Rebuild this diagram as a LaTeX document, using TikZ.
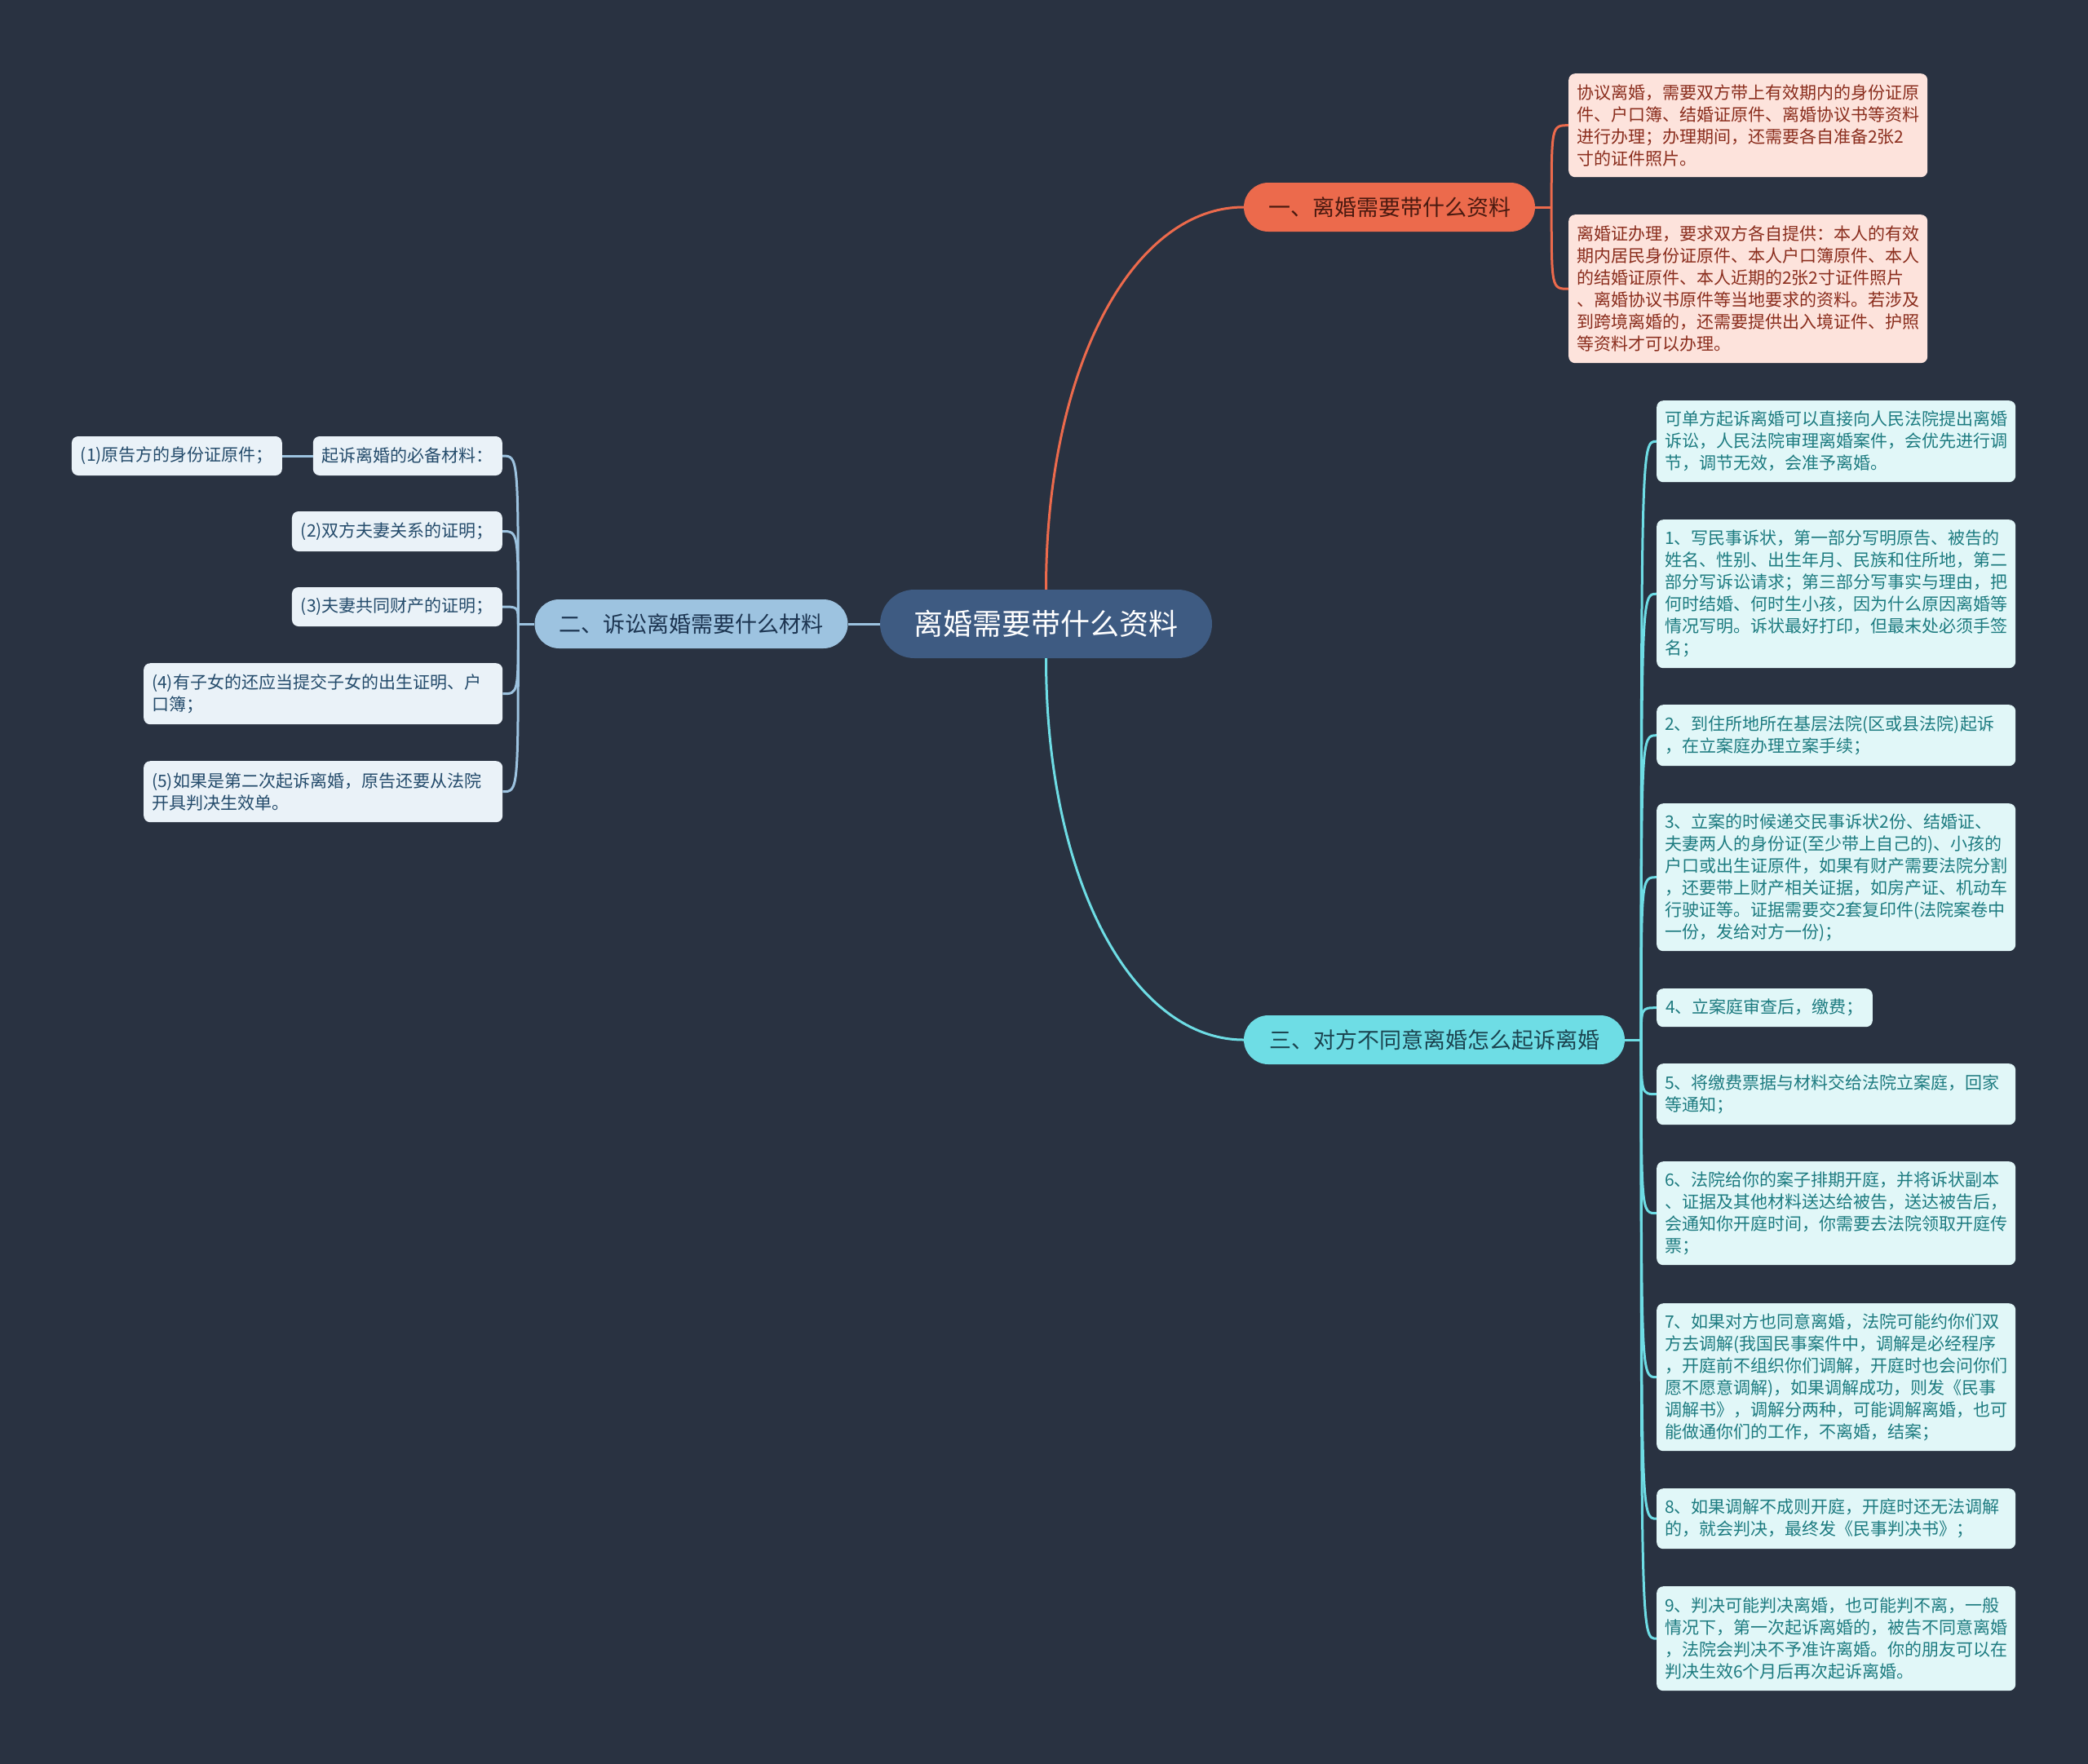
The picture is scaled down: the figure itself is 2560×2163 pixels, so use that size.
\documentclass[tikz,border=0pt]{standalone}
\usepackage{fontspec}
\setmainfont{Noto Sans CJK SC}
\definecolor{bgc}{HTML}{293241}
\definecolor{rootc}{HTML}{3E5B82}
\definecolor{c1}{HTML}{EC6A4C}
\definecolor{c2}{HTML}{9DC3E0}
\definecolor{c3}{HTML}{6EDDE5}
\definecolor{bt1}{HTML}{4A1A10}
\definecolor{bt2}{HTML}{1C3450}
\definecolor{bt3}{HTML}{1B4450}
\definecolor{lf1}{HTML}{FDE3DC}
\definecolor{lf2}{HTML}{EAF2F8}
\definecolor{lf3}{HTML}{E1F7F8}
\definecolor{lt1}{HTML}{8A2D1D}
\definecolor{lt2}{HTML}{244B6B}
\definecolor{lt3}{HTML}{1D7B80}
\begin{document}
\begin{tikzpicture}[x=1pt,y=-1pt,
  rootbox/.style={fill=rootc,text=white,rounded corners=42pt,minimum width=407pt,minimum height=84pt,inner sep=0pt,font=\fontsize{36}{40}\selectfont},
  branchbox/.style={rounded corners=30pt,minimum height=60pt,inner sep=0pt,font=\fontsize{27}{30}\selectfont},
  leafbox/.style={rounded corners=8pt,text width=420pt,inner xsep=10pt,inner ysep=0pt,align=left,anchor=north west,font=\fontsize{21}{27}\selectfont},
  leafshort/.style={rounded corners=8pt,inner xsep=11pt,inner ysep=0pt,align=left,font=\fontsize{21}{27}\selectfont},
  pink/.style={fill=lf1,text=lt1},
  pale/.style={fill=lf2,text=lt2},
  aqua/.style={fill=lf3,text=lt3},
  e1/.style={draw=c1,line width=3pt},
  e2/.style={draw=c2,line width=3pt},
  e3/.style={draw=c3,line width=3pt}]
\fill[bgc] (0,0) rectangle (2560,2163);
\useasboundingbox (0,0) rectangle (2560,2163);

% root and branches
\node[rootbox] (c) at (1282.5,765) {离婚需要带什么资料};
\node[branchbox,fill=c1,text=bt1,minimum width=357pt] (b1) at (1703.5,254) {一、离婚需要带什么资料};
\node[branchbox,fill=c2,text=bt2,minimum width=384pt] (b2) at (847.5,765) {二、诉讼离婚需要什么材料};
\node[branchbox,fill=c3,text=bt3,minimum width=467pt] (b3) at (1758.5,1275) {三、对方不同意离婚怎么起诉离婚};

% branch 1 leaves
\node[leafbox,pink,minimum height=127pt] (a1) at (1923,90) {协议离婚，需要双方带上有效期内的身份证原\\件、户口簿、结婚证原件、离婚协议书等资料\\进行办理；办理期间，还需要各自准备2张2\\寸的证件照片。};
\node[leafbox,pink,minimum height=182pt] (a2) at (1923,263) {离婚证办理，要求双方各自提供：本人的有效\\期内居民身份证原件、本人户口簿原件、本人\\的结婚证原件、本人近期的2张2寸证件照片\\、离婚协议书原件等当地要求的资料。若涉及\\到跨境离婚的，还需要提供出入境证件、护照\\等资料才可以办理。};

% branch 3 leaves
\node[leafbox,aqua,minimum height=100pt] (d0) at (2031,491) {可单方起诉离婚可以直接向人民法院提出离婚\\诉讼，人民法院审理离婚案件，会优先进行调\\节，调节无效，会准予离婚。};
\node[leafbox,aqua,minimum height=182pt] (d1) at (2031,637) {1、写民事诉状，第一部分写明原告、被告的\\姓名、性别、出生年月、民族和住所地，第二\\部分写诉讼请求；第三部分写事实与理由，把\\何时结婚、何时生小孩，因为什么原因离婚等\\情况写明。诉状最好打印，但最末处必须手签\\名；};
\node[leafbox,aqua,minimum height=75pt] (d2) at (2031,864) {2、到住所地所在基层法院(区或县法院)起诉\\，在立案庭办理立案手续；};
\node[leafbox,aqua,minimum height=181pt] (d3) at (2031,985) {3、立案的时候递交民事诉状2份、结婚证、\\夫妻两人的身份证(至少带上自己的)、小孩的\\户口或出生证原件，如果有财产需要法院分割\\，还要带上财产相关证据，如房产证、机动车\\行驶证等。证据需要交2套复印件(法院案卷中\\一份，发给对方一份)；};
\node[leafshort,aqua,minimum height=47pt,anchor=north west] (d4) at (2031,1212) {4、立案庭审查后，缴费；};
\node[leafbox,aqua,minimum height=75pt] (d5) at (2031,1304) {5、将缴费票据与材料交给法院立案庭，回家\\等通知；};
\node[leafbox,aqua,minimum height=127pt] (d6) at (2031,1424) {6、法院给你的案子排期开庭，并将诉状副本\\、证据及其他材料送达给被告，送达被告后，\\会通知你开庭时间，你需要去法院领取开庭传\\票；};
\node[leafbox,aqua,minimum height=181pt] (d7) at (2031,1598) {7、如果对方也同意离婚，法院可能约你们双\\方去调解(我国民事案件中，调解是必经程序\\，开庭前不组织你们调解，开庭时也会问你们\\愿不愿意调解)，如果调解成功，则发《民事\\调解书》，调解分两种，可能调解离婚，也可\\能做通你们的工作，不离婚，结案；};
\node[leafbox,aqua,minimum height=74pt] (d8) at (2031,1825) {8、如果调解不成则开庭，开庭时还无法调解\\的，就会判决，最终发《民事判决书》；};
\node[leafbox,aqua,minimum height=128pt] (d9) at (2031,1945) {9、判决可能判决离婚，也可能判不离，一般\\情况下，第一次起诉离婚的，被告不同意离婚\\，法院会判决不予准许离婚。你的朋友可以在\\判决生效6个月后再次起诉离婚。};

% branch 2 leaves
\node[leafshort,pale,minimum height=48pt,anchor=east] (g0) at (616,559) {起诉离婚的必备材料：};
\node[leafshort,pale,minimum height=48pt,anchor=east] (g1) at (346,559) {(1)原告方的身份证原件；};
\node[leafshort,pale,minimum height=49pt,anchor=east] (g2) at (616,651.5) {(2)双方夫妻关系的证明；};
\node[leafshort,pale,minimum height=48pt,anchor=east] (g3) at (616,744) {(3)夫妻共同财产的证明；};
\node[leafbox,pale,minimum height=75pt] (g4) at (176,813) {(4)有子女的还应当提交子女的出生证明、户\\口簿；};
\node[leafbox,pale,minimum height=75pt] (g5) at (176,933) {(5)如果是第二次起诉离婚，原告还要从法院\\开具判决生效单。};

% root connectors
\draw[e1] (c.north) .. controls +(0,-275) and +(-135,0) .. (b1.west);
\draw[e2] (c.west) -- (b2.east);
\draw[e3] (c.south) .. controls +(0,275) and +(-135,0) .. (b3.west);

% branch 1 fork
\draw[e1] (b1.east) -- ++(20,0) coordinate (f1);
\foreach \n in {a1,a2}
  \draw[e1] (f1) .. controls (f1 |- \n.west) .. (\n.west);

% branch 3 fork
\draw[e3] (b3.east) -- ++(20,0) coordinate (f3);
\foreach \n in {d0,d1,d2,d3,d4,d5,d6,d7,d8,d9}
  \draw[e3] (f3) .. controls (f3 |- \n.west) .. (\n.west);

% branch 2 fork
\draw[e2] (b2.west) -- ++(-20,0) coordinate (f2);
\foreach \n in {g0,g2,g3,g4,g5}
  \draw[e2] (f2) .. controls (f2 |- \n.east) .. (\n.east);
\draw[e2] (g0.west) -- (g1.east);
\end{tikzpicture}
\end{document}
